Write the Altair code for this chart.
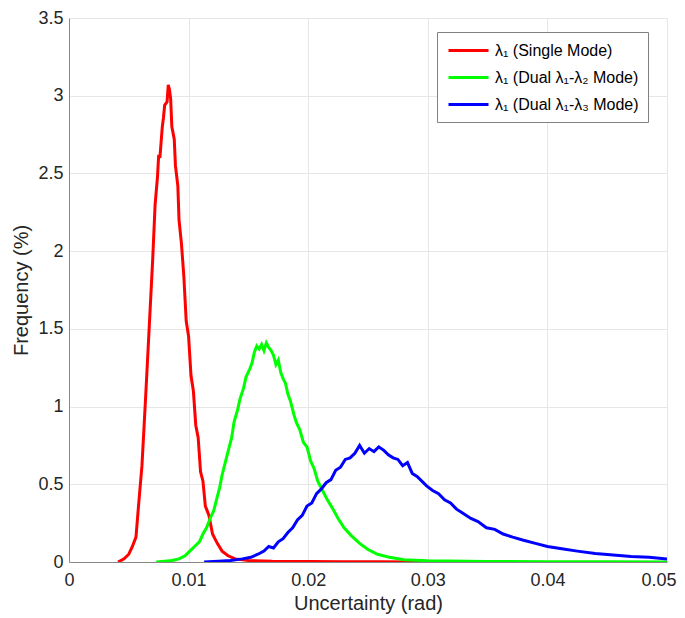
import altair as alt
import pandas as pd

series_names = ["λ₁ (Single Mode)", "λ₁ (Dual λ₁-λ₂ Mode)", "λ₁ (Dual λ₁-λ₃ Mode)"]
series_colors = ["#ff0000", "#00ff00", "#0000ff"]

red_x = [0.0041, 0.0046, 0.0050, 0.0053, 0.0056, 0.0058, 0.0061, 0.0064, 0.0067, 0.0070,
         0.0072, 0.0074, 0.0075, 0.0076, 0.0078, 0.0079, 0.0080, 0.0082, 0.0083, 0.0084,
         0.0085, 0.0086, 0.0088, 0.0089, 0.0091, 0.0092, 0.0094, 0.0096, 0.0098, 0.0100,
         0.0102, 0.0104, 0.0106, 0.0108, 0.0110, 0.0112, 0.0114, 0.0117, 0.0120, 0.0124,
         0.0128, 0.0133, 0.0139, 0.0150, 0.0170, 0.0200, 0.0230, 0.0260, 0.0296]
red_y = [0.00, 0.02, 0.05, 0.10, 0.16, 0.35, 0.62, 1.05, 1.50, 1.95,
         2.30, 2.48, 2.62, 2.60, 2.80, 2.86, 2.94, 2.96, 3.07, 3.04,
         2.98, 2.80, 2.72, 2.55, 2.42, 2.20, 2.05, 1.84, 1.55, 1.45,
         1.20, 1.10, 0.88, 0.80, 0.58, 0.52, 0.36, 0.30, 0.18, 0.12,
         0.07, 0.04, 0.02, 0.01, 0.005, 0.003, 0.002, 0.001, 0.0]

green_x = [0.0073, 0.0080, 0.0086, 0.0092, 0.0097, 0.0101, 0.0105, 0.0109, 0.0112, 0.0115,
           0.0118, 0.0121, 0.0124, 0.0126, 0.0128, 0.0131, 0.0134, 0.0136, 0.0138, 0.0141,
           0.0143, 0.0146, 0.0148, 0.0151, 0.0153, 0.0155, 0.0157, 0.0159, 0.0161, 0.0163,
           0.0165, 0.0167, 0.0169, 0.0171, 0.0173, 0.0175, 0.0177, 0.0179, 0.0181, 0.0183,
           0.0185, 0.0188, 0.0190, 0.0193, 0.0196, 0.0199, 0.0202, 0.0205, 0.0208, 0.0212,
           0.0216, 0.0220, 0.0225, 0.0230, 0.0236, 0.0243, 0.0250, 0.0258, 0.0268, 0.0280,
           0.0300, 0.0350, 0.0400, 0.0450, 0.0500]
green_y = [0.00, 0.005, 0.01, 0.02, 0.04, 0.07, 0.10, 0.13, 0.18, 0.22,
           0.28, 0.33, 0.42, 0.48, 0.56, 0.65, 0.74, 0.80, 0.90, 0.98,
           1.05, 1.12, 1.19, 1.24, 1.28, 1.35, 1.39, 1.37, 1.40, 1.36,
           1.41, 1.38, 1.36, 1.33, 1.27, 1.30, 1.22, 1.18, 1.15, 1.08,
           1.04, 0.95, 0.90, 0.85, 0.77, 0.74, 0.65, 0.60, 0.52, 0.46,
           0.40, 0.35, 0.28, 0.22, 0.17, 0.12, 0.08, 0.05, 0.03, 0.015,
           0.008, 0.004, 0.002, 0.001, 0.0]

blue_x = [0.0113, 0.0125, 0.0135, 0.0145, 0.0152, 0.0158, 0.0163, 0.0167, 0.0171, 0.0175,
          0.0179, 0.0183, 0.0187, 0.0191, 0.0195, 0.0199, 0.0203, 0.0207, 0.0211, 0.0215,
          0.0219, 0.0223, 0.0227, 0.0231, 0.0235, 0.0239, 0.0243, 0.0247, 0.0251, 0.0255,
          0.0259, 0.0263, 0.0267, 0.0271, 0.0275, 0.0279, 0.0283, 0.0287, 0.0291, 0.0295,
          0.0299, 0.0304, 0.0309, 0.0314, 0.0319, 0.0324, 0.0330, 0.0336, 0.0342, 0.0349,
          0.0356, 0.0363, 0.0371, 0.0380, 0.0390, 0.0400, 0.0412, 0.0425, 0.0440, 0.0455,
          0.0470, 0.0485, 0.0500]
blue_y = [0.00, 0.005, 0.01, 0.02, 0.03, 0.05, 0.07, 0.10, 0.09, 0.13,
          0.15, 0.19, 0.22, 0.27, 0.30, 0.36, 0.38, 0.44, 0.47, 0.51,
          0.53, 0.59, 0.61, 0.66, 0.67, 0.70, 0.75, 0.70, 0.73, 0.71,
          0.74, 0.72, 0.69, 0.67, 0.66, 0.62, 0.64, 0.57, 0.55, 0.52,
          0.49, 0.46, 0.44, 0.40, 0.38, 0.34, 0.31, 0.28, 0.26, 0.22,
          0.21, 0.18, 0.16, 0.14, 0.12, 0.10, 0.085, 0.07, 0.055, 0.045,
          0.035, 0.03, 0.02]

x_ticks = [0, 0.01, 0.02, 0.03, 0.04, 0.05]
y_ticks = [0, 0.5, 1, 1.5, 2, 2.5, 3, 3.5]

rows = []
for name, xs, ys in zip(series_names, [red_x, green_x, blue_x], [red_y, green_y, blue_y]):
    for xv, yv in zip(xs, ys):
        rows.append({"series": name, "x": xv, "y": yv})
df = pd.DataFrame(rows)

FONT = "Liberation Sans"

chart = alt.Chart(df).mark_line(strokeWidth=3, clip=True).encode(
    x=alt.X("x:Q", scale=alt.Scale(domain=[0, 0.05], nice=False),
            axis=alt.Axis(values=x_ticks, format=".2~f", title="Uncertainty (rad)",
                          labelFlush=False, labelPadding=9, titlePadding=4,
                          labelAlign={"condition": {"test": "datum.value >= 0.0499", "value": "right"},
                                      "value": "center"},
                          labelOffset={"condition": {"test": "datum.value >= 0.0499", "value": 9},
                                       "value": 0})),
    y=alt.Y("y:Q", scale=alt.Scale(domain=[0, 3.5], nice=False),
            axis=alt.Axis(values=y_ticks, format="~g", title="Frequency (%)",
                          labelPadding=6, titlePadding=6)),
    color=alt.Color("series:N",
                    scale=alt.Scale(domain=series_names, range=series_colors),
                    sort=series_names,
                    legend=alt.Legend(
                        title=None, orient="none", legendX=368, legendY=14,
                        symbolType="M-2.5,0H2.5", symbolSize=256, symbolStrokeWidth=3,
                        symbolOffset=13, labelOffset=17,
                        labelFont=FONT, labelFontSize=16, labelColor="#000000",
                        fillColor="#ffffff", strokeColor="#808080", padding=9,
                        rowPadding=9, labelLimit=300)),
).properties(
    width=598, height=544,
    autosize=alt.AutoSizeParams(type="none"),
    padding={"left": 61, "top": 10, "right": 10, "bottom": 54},
).configure_view(stroke=None).configure_axis(
    labelFont=FONT, titleFont=FONT, labelFontSize=18, titleFontSize=20,
    titleFontWeight="normal", labelColor="#262626", titleColor="#262626",
    domainColor="#888888", domainWidth=1, gridColor="#e6e6e6", gridWidth=1,
    ticks=False,
)

chart.save("out.html", embed_options={"renderer": "svg", "actions": False})
